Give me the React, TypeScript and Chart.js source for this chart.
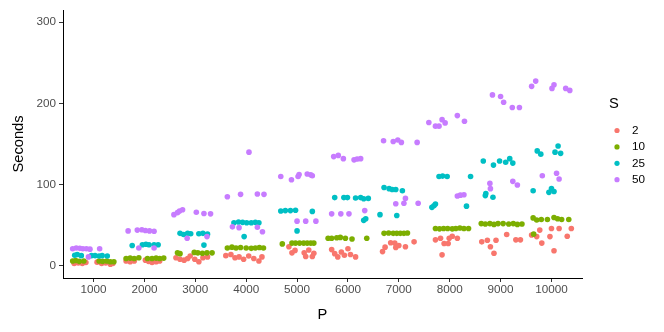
import React, { useEffect, useRef } from "react";
import { Chart, registerables } from "chart.js";

Chart.register(...registerables);

const FONT = "'Liberation Sans', Arial, Helvetica, sans-serif";

const seriesLabels = ["2", "10", "25", "50"];
const seriesColors = ["#F8766D", "#7CAE00", "#00BFC4", "#C77CFF"];
const xTicks = [1000, 2000, 3000, 4000, 5000, 6000, 7000, 8000, 9000, 10000];
const yTicks = [0, 100, 200, 300];

// [P (jittered), Seconds]
const s2: [number, number][] = [
  [620, 3], [700, 3.5], [780, 3], [850, 4], [1070, 4.5], [1160, 3], [1240, 3.5], [1330, 2], [1380, 3],
  [1640, 6], [1720, 5], [1800, 6], [2020, 7], [2080, 5.5], [2150, 4], [2230, 5], [2300, 6],
  [2620, 10], [2700, 8], [2780, 7], [2850, 9], [2900, 12], [2990, 8], [3070, 5], [3150, 10], [3240, 11],
  [3600, 12.5], [3700, 14], [3780, 10], [3860, 11], [3950, 8], [4050, 12], [4150, 9], [4250, 6], [4310, 11],
  [4840, 23.5], [4900, 16], [4960, 19], [5140, 16], [5170, 11.5], [5230, 19.5], [5300, 11.5], [5330, 15.5],
  [5680, 20], [5740, 15], [5800, 11], [5870, 17], [5930, 13], [6000, 21], [6050, 14], [6150, 11],
  [6680, 17.5], [6730, 23], [6840, 28.5], [6920, 28], [6940, 22.5], [7000, 25], [7130, 23.5], [7300, 29.5],
  [7720, 32], [7820, 34], [7850, 13.5], [7890, 27.5], [7970, 27.5], [7990, 34], [8050, 36.5], [8150, 34],
  [8630, 29.5], [8740, 31.5], [8800, 23.5], [8870, 15.5], [8910, 31.5], [9120, 38.5], [9300, 32], [9390, 32],
  [9610, 38], [9710, 36], [9770, 44], [9810, 28], [9970, 36], [10000, 46], [10050, 18.5], [10150, 46], [10310, 36.5], [10390, 46],
];

const s10: [number, number][] = [
  [590, 6], [650, 6.5], [720, 5.5], [810, 6], [1110, 6], [1180, 5.5], [1260, 6], [1330, 5], [1400, 5],
  [1640, 9], [1720, 9.5], [1800, 9], [1890, 10], [2060, 9], [2150, 9], [2230, 9.5], [2300, 9], [2380, 9.5],
  [2650, 16], [2700, 15], [2980, 16.5], [3050, 16], [3140, 15.5], [3230, 16], [3330, 16],
  [3630, 22], [3720, 23], [3800, 22], [3890, 22.5], [4000, 22], [4100, 21.5], [4180, 22], [4260, 22.5], [4340, 22],
  [4710, 27], [4900, 28], [4970, 28], [5050, 28], [5130, 28], [5200, 28], [5270, 28], [5330, 28],
  [5610, 34], [5680, 34], [5780, 34.5], [5850, 35], [5950, 34], [6080, 33], [6370, 34],
  [6710, 40], [6800, 40.5], [6890, 40], [6960, 40], [7030, 40], [7100, 40], [7170, 40.5],
  [7720, 46], [7800, 45.5], [7880, 46], [7960, 46], [8050, 45.5], [8120, 46], [8200, 46.5], [8280, 46], [8370, 46],
  [8620, 52], [8700, 51.5], [8790, 52], [8870, 51], [8950, 52], [9050, 52], [9160, 51.5], [9250, 52], [9330, 51], [9420, 51.5],
  [9640, 59], [9710, 56.5], [9800, 57], [9920, 57], [10050, 59.5], [10120, 58], [10200, 57], [10340, 57], [9650, 39],
];

const s25: [number, number][] = [
  [630, 13], [680, 14], [760, 12.5], [960, 12.5], [1030, 12.5], [1110, 12], [1170, 12.5], [1270, 12],
  [1760, 25], [1960, 26], [2030, 26.5], [2090, 26], [2190, 26], [2270, 26],
  [2700, 40], [2770, 38.5], [2850, 40], [2910, 39.5], [3070, 39.5], [3150, 40], [3240, 39], [3170, 25.5],
  [3760, 53], [3850, 54], [3930, 53.5], [4010, 53], [4100, 53], [4180, 53.5], [4250, 53], [3960, 36],
  [4680, 67.5], [4770, 68], [4870, 68], [4970, 68.5], [5300, 67], [5000, 43],
  [5740, 84], [5920, 84], [5990, 84], [6150, 83.5], [6250, 84], [6310, 82.5], [6400, 83], [6310, 56], [6350, 58],
  [6710, 96.5], [6810, 95], [6870, 94], [6940, 94], [7070, 92.5], [6630, 63], [6960, 62],
  [7650, 72], [7690, 74], [7720, 76], [8330, 73.5], [7790, 110], [7860, 110.5], [7950, 110], [8410, 110],
  [8660, 129], [8860, 124], [8980, 129], [9100, 127.5], [9180, 132], [9240, 126.5], [8700, 86.5], [8710, 89], [8850, 84.5],
  [9720, 141.5], [9790, 137.5], [10070, 140], [10130, 147.5], [10180, 138.5], [9640, 92.5], [9950, 90.5], [10000, 95], [10050, 91.5],
];

const s50: [number, number][] = [
  [590, 21], [660, 22], [730, 21.5], [790, 21], [860, 21], [930, 20.5], [1120, 21], [900, 11],
  [1680, 43], [1860, 44], [1950, 44.5], [2020, 43.5], [2100, 43], [2190, 42.5], [1890, 22], [2190, 22],
  [2580, 63], [2650, 65.5], [2690, 67.5], [2750, 69], [3020, 66], [3170, 64.5], [3300, 64], [2840, 34], [3230, 36],
  [3630, 85], [3890, 88], [4220, 88.5], [4350, 88], [4055, 140], [3730, 48], [3860, 47], [4220, 47.5], [4320, 42],
  [4680, 110], [4890, 106], [5020, 110], [5040, 112.5], [5200, 113], [5270, 112], [5300, 111], [5000, 55], [5170, 55], [5370, 55],
  [5720, 134.5], [5810, 136], [5910, 132], [6120, 130.5], [6180, 131.5], [6250, 132], [5680, 64], [5860, 64], [6020, 64], [6330, 68],
  [6700, 154], [6890, 153], [6980, 155], [7050, 152], [7360, 152], [6940, 76.5], [7100, 77], [7130, 83], [7380, 77],
  [7590, 176.5], [7720, 172], [7790, 172], [7850, 180], [7910, 176], [8150, 185], [8290, 178], [8150, 86], [8210, 87], [8280, 87.5],
  [8840, 210.5], [9000, 208.5], [9060, 201.5], [9230, 195], [9370, 195], [8790, 101.5], [8800, 95], [9240, 104], [9330, 99.5],
  [9610, 221], [9690, 227.5], [10010, 218.5], [10050, 223], [10280, 218.5], [10360, 216], [9820, 111], [10100, 114], [10150, 107],
];

const seriesData = [s2, s10, s25, s50];

export default function App() {
  const ref = useRef<HTMLCanvasElement>(null);

  useEffect(() => {
    if (!ref.current) return;
    const legendPlugin = {
      id: "ggLegend",
      afterDraw(chart: any) {
        const ctx = chart.ctx as CanvasRenderingContext2D;
        ctx.save();
        ctx.textAlign = "left";
        ctx.textBaseline = "middle";
        ctx.fillStyle = "#000";
        ctx.font = `14.7px ${FONT}`;
        ctx.fillText("S", 609, 104);
        ctx.font = `11.7px ${FONT}`;
        seriesLabels.forEach((lab, i) => {
          const y = 130.5 + i * 16.4;
          ctx.beginPath();
          ctx.arc(617, y, 2.6, 0, Math.PI * 2);
          ctx.fillStyle = seriesColors[i];
          ctx.fill();
          ctx.fillStyle = "#000";
          ctx.fillText(lab, 632, y);
        });
        ctx.restore();
      },
    };

    const chart = new Chart(ref.current, {
      type: "scatter",
      data: {
        datasets: seriesData.map((d, i) => ({
          label: seriesLabels[i],
          data: d.map(([x, y]) => ({ x, y })),
          backgroundColor: seriesColors[i],
          borderWidth: 0,
          pointRadius: 2.8,
          pointHoverRadius: 2.8,
          order: 3 - i,
        })),
      },
      options: {
        responsive: false,
        animation: false,
        events: [],
        layout: { padding: { left: 0, top: 8, right: 82, bottom: 0 } },
        plugins: { legend: { display: false }, tooltip: { enabled: false } },
        scales: {
          x: {
            type: "linear",
            min: 400,
            max: 10600,
            afterBuildTicks: (s: any) => {
              s.ticks = xTicks.map((v) => ({ value: v }));
            },
            afterFit: (s: any) => {
              s.height = 332 - 278;
            },
            grid: { drawOnChartArea: false, drawTicks: true, tickLength: 4, tickColor: "#333333", tickWidth: 1 },
            border: { display: true, color: "#000", width: 1 },
            ticks: {
              color: "#4D4D4D",
              font: { family: FONT, size: 11.7 },
              padding: 1,
              maxRotation: 0,
              autoSkip: false,
              callback: (v: any) => String(v),
            },
            title: {
              display: true,
              text: "P",
              color: "#000",
              font: { family: FONT, size: 14.7 },
              padding: { top: 0, bottom: 8 },
            },
          },
          y: {
            type: "linear",
            min: -15,
            max: 315,
            afterBuildTicks: (s: any) => {
              s.ticks = yTicks.map((v) => ({ value: v }));
            },
            afterFit: (s: any) => {
              s.width = 63;
            },
            grid: { drawOnChartArea: false, drawTicks: true, tickLength: 4, tickColor: "#333333", tickWidth: 1 },
            border: { display: true, color: "#000", width: 1 },
            ticks: {
              color: "#4D4D4D",
              font: { family: FONT, size: 11.7 },
              padding: 3,
              callback: (v: any) => String(v),
            },
            title: {
              display: true,
              text: "Seconds",
              color: "#000",
              font: { family: FONT, size: 14.7 },
              padding: { top: 10, bottom: 0 },
            },
          },
        },
      },
      plugins: [legendPlugin],
    } as any);

    return () => chart.destroy();
  }, []);

  return (
    <div style={{ position: "fixed", left: 0, top: 0, width: 664, height: 332, background: "#fff" }}>
      <canvas ref={ref} width={664} height={332} style={{ display: "block", width: 664, height: 332 }} />
    </div>
  );
}
